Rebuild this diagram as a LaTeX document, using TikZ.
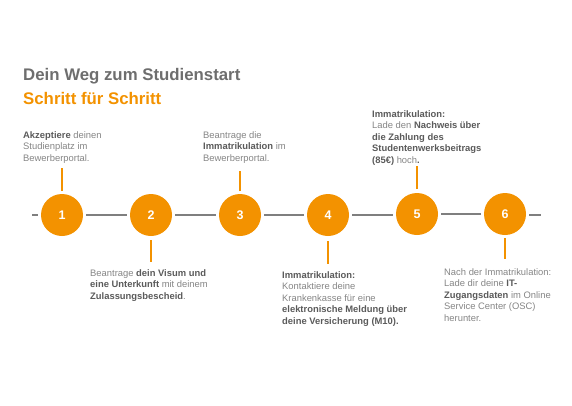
\documentclass[tikz,border=0pt]{standalone}
\usepackage{fontspec}
\setmainfont{Liberation Sans}
\usetikzlibrary{positioning}

\definecolor{uniorange}{HTML}{F39200}
\definecolor{linegray}{HTML}{7F7F7F}
\definecolor{textgray}{HTML}{858585}
\definecolor{boldgray}{HTML}{5A5A5A}
\definecolor{titlegray}{HTML}{6E6E6E}

\newcommand{\hl}[1]{\textbf{\color{boldgray}#1}}

\tikzset{
    step circle/.style={shape=circle,fill=uniorange,minimum size=42pt,inner sep=0pt,
        text=white,font=\fontsize{12.5}{14}\selectfont\bfseries},
    time line/.style={draw=linegray,line width=1.8pt,shorten >=3pt,shorten <=3pt},
    tick/.style={draw=uniorange,line width=1.6pt},
    info/.style={anchor=north west,inner sep=0pt,align=left,text=textgray,
        font=\fontsize{9.4}{11.6}\selectfont}
}

\begin{document}
\begin{tikzpicture}[x=1pt,y=1pt]
    \useasboundingbox (0,0) rectangle (572,-405);

    \node[anchor=base west,inner sep=0pt,text=titlegray,font=\fontsize{16.8}{18}\selectfont\bfseries] (title) at (23,-80) {Dein Weg zum Studienstart};
    \node[anchor=base west,inner sep=0pt,text=uniorange,font=\fontsize{16.8}{18}\selectfont\bfseries] (subtitle) at (23,-104) {Schritt für Schritt};

    \coordinate (start) at (29,-215);
    \coordinate (end) at (541,-215);

    \node[step circle] (c1) at (62,-215) {1};
    \node[step circle] (c2) at (151,-215) {2};
    \node[step circle] (c3) at (240,-215) {3};
    \node[step circle] (c4) at (328,-215) {4};
    \node[step circle] (c5) at (417,-214) {5};
    \node[step circle] (c6) at (505,-214) {6};

    \path[time line] (start) -- (c1);
    \path[time line] (c1) -- (c2);
    \path[time line] (c2) -- (c3);
    \path[time line] (c3) -- (c4);
    \path[time line] (c4.east) -- (c5.west |- c4.east);
    \path[time line] (c5) -- (c6);
    \path[time line,shorten >=0pt] (c6.east |- end) -- (end);

    % ticks
    \coordinate (k1a) at (62,-191); \coordinate (k1b) at (62,-168);
    \coordinate (k2a) at (151,-240); \coordinate (k2b) at (151,-262);
    \coordinate (k3a) at (240,-191); \coordinate (k3b) at (240,-171);
    \coordinate (k4a) at (328,-241); \coordinate (k4b) at (328,-264);
    \coordinate (k5a) at (417,-189); \coordinate (k5b) at (417,-166);
    \coordinate (k6a) at (505,-238); \coordinate (k6b) at (505,-259);
    \path[tick] (k1a) -- (k1b);
    \path[tick] (k2a) -- (k2b);
    \path[tick] (k3a) -- (k3b);
    \path[tick] (k4a) -- (k4b);
    \path[tick] (k5a) -- (k5b);
    \path[tick] (k6a) -- (k6b);

    % texts
    \node[info] (t1) at (23,-131) {\hl{Akzeptiere} deinen\\Studienplatz im\\Bewerberportal.};
    \node[info] (t3) at (203,-131) {Beantrage die\\\hl{Immatrikulation} im\\Bewerberportal.};
    \node[info] (t5) at (372,-110) {\hl{Immatrikulation:}\\Lade den \hl{Nachweis über}\\\hl{die Zahlung des}\\\hl{Studentenwerksbeitrags}\\\hl{(85€)} hoch\hl{.}};
    \node[info] (t2) at (90,-269) {Beantrage \hl{dein Visum und}\\\hl{eine Unterkunft} mit deinem\\\hl{Zulassungsbescheid}.};
    \node[info] (t4) at (282,-271) {\hl{Immatrikulation:}\\Kontaktiere deine\\Krankenkasse für eine\\\hl{elektronische Meldung über}\\\hl{deine Versicherung (M10).}};
    \node[info] (t6) at (444,-268) {Nach der Immatrikulation:\\Lade dir deine \hl{IT-}\\\hl{Zugangsdaten} im Online\\Service Center (OSC)\\herunter.};
\end{tikzpicture}
\end{document}
